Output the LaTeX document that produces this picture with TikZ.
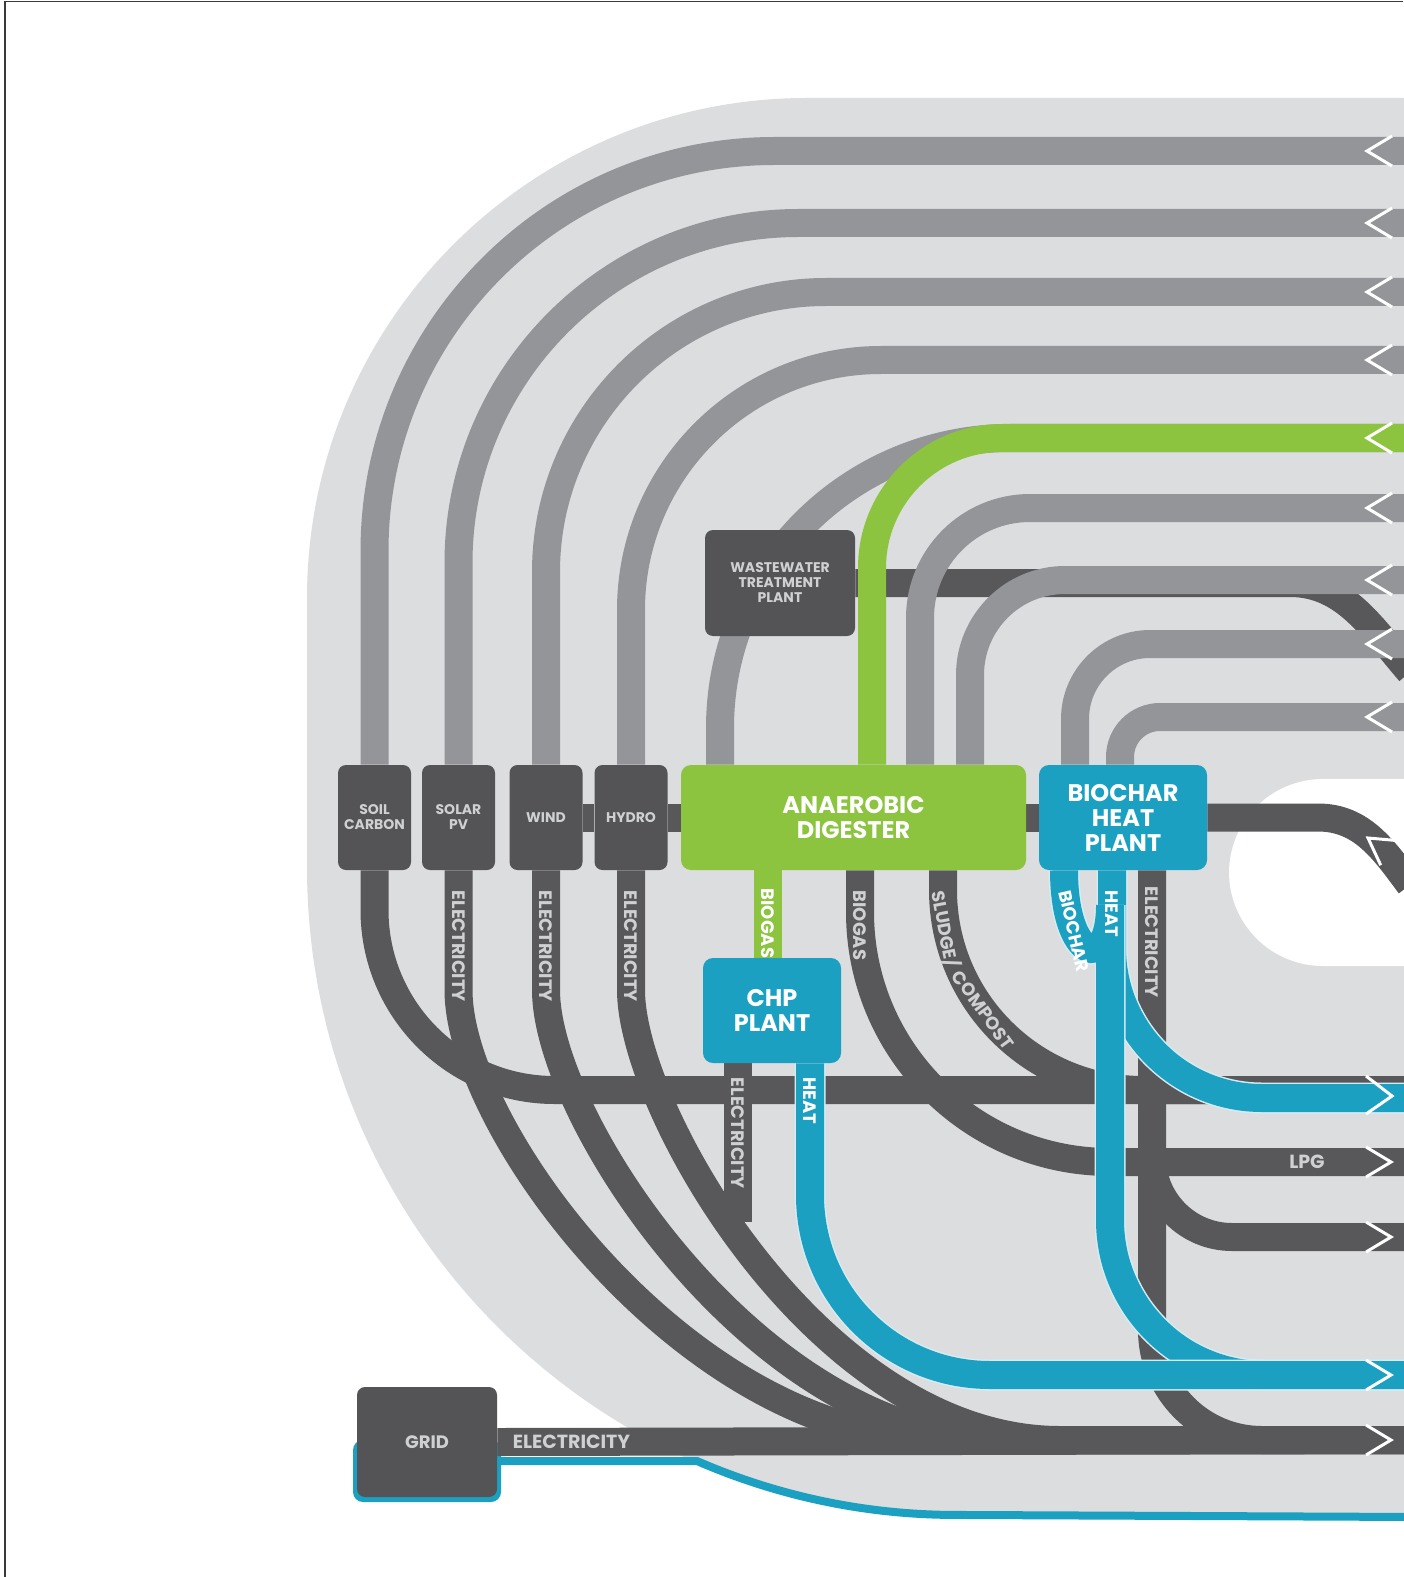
\documentclass[tikz,border=0pt]{standalone}
\usepackage{fontspec}
\setmainfont{Poppins}
\usetikzlibrary{positioning}
\definecolor{shapegray}{HTML}{DCDDDF}
\definecolor{pipegray}{HTML}{939598}
\definecolor{pipedark}{HTML}{58585A}
\definecolor{boxdark}{HTML}{545456}
\definecolor{pipegreen}{HTML}{8CC43F}
\definecolor{pipeblue}{HTML}{1CA0C1}
\definecolor{halo}{HTML}{D5ECF3}
\definecolor{lbl}{HTML}{CFD0D2}
\definecolor{framecol}{HTML}{3A3A3A}
\pgfdeclarelayer{back}
\pgfdeclarelayer{darkpipes}
\pgfdeclarelayer{graypipes}
\pgfdeclarelayer{bluepipes}
\pgfdeclarelayer{labels}
\pgfsetlayers{back,darkpipes,graypipes,bluepipes,labels,main}
\begin{document}
\begin{tikzpicture}[x=0.5pt,y=-0.5pt]
       \tikzstyle{srcbox}=[rectangle, rounded corners=4pt, fill=boxdark, text=lbl, align=center, inner sep=0pt, minimum width=36.5pt, minimum height=52.5pt, font=\bfseries\fontsize{7}{7.5}\selectfont]
       \tikzstyle{plantbox}=[rectangle, rounded corners=5pt, text=white, align=center, inner sep=0pt, minimum height=52.5pt, font=\bfseries\fontsize{12}{12.5}\selectfont]
       \tikzstyle{pipe}=[line width=14pt]
       \tikzstyle{graypipe}=[pipe, draw=pipegray]
       \tikzstyle{darkpipe}=[pipe, draw=pipedark]
       \tikzstyle{greenpipe}=[pipe, draw=pipegreen]
       \tikzstyle{bluepipe}=[pipe, draw=pipeblue, preaction={draw=halo, line width=15.5pt}]
       \tikzstyle{pipelabel}=[inner sep=0pt, text=lbl, text depth=0pt, font=\bfseries\fontsize{9}{9}\selectfont]
       \tikzstyle{downlabel}=[pipelabel, rotate=-90, anchor=west]
       \tikzstyle{chevron}=[draw=white, line width=1.5pt]
       \useasboundingbox (0,0) rectangle (1403,1577);
       \begin{pgfonlayer}{back}
        \fill[white] (0,0) rectangle (1403,1577);
        \draw[framecol, line width=0.75pt] (5,1577) -- (5,1.5) -- (1403,1.5);
        \fill[shapegray] (1420,98) -- (807,98) arc[start angle=90, end angle=180, radius=250pt]
         -- (307,867) arc[start angle=180, end angle=270, radius=325pt] -- (1420,1517) -- cycle;
        \fill[white, rounded corners=47pt] (1229,779) rectangle (1500,966);
        \fill[pipeblue, rounded corners=5pt] (353,1440) rectangle (501,1502);
        \draw[pipeblue, line width=4pt] (497,1461) -- (697,1461)
         arc[start angle=246.5, end angle=270, radius=325pt] -- (1420,1517);
       \end{pgfonlayer}
       \node[srcbox] (soil) at (374.5,817.5) {SOIL\\CARBON};
       \node[srcbox] (solar) at (458.5,817.5) {SOLAR\\PV};
       \node[srcbox] (wind) at (546,817.5) {WIND};
       \node[srcbox] (hydro) at (631,817.5) {HYDRO};
       \node[plantbox, fill=pipegreen, minimum width=172.5pt] (digester) at (853.5,817.5) {ANAEROBIC\\DIGESTER};
       \node[plantbox, fill=pipeblue, minimum width=84pt] (biochar) at (1123,817.5) {BIOCHAR\\HEAT\\PLANT};
       \node[srcbox, minimum width=75pt, minimum height=53pt] (wwtp) at (780,583) {WASTEWATER\\TREATMENT\\PLANT};
       \node[plantbox, fill=pipeblue, minimum width=69pt] (chp) at (772,1010.5) {CHP\\PLANT};
       \node[srcbox, minimum width=70pt, minimum height=55pt, font=\bfseries\fontsize{9}{9}\selectfont] (grid) at (427,1442) {GRID};
       \coordinate (in1) at (1410,151);
       \coordinate (in2) at (1410,223);
       \coordinate (in3) at (1410,292);
       \coordinate (in4) at (1410,360);
       \coordinate (in5) at (1410,438);
       \coordinate (in6) at (1410,508);
       \coordinate (in7) at (1410,580);
       \coordinate (in8) at (1410,644);
       \coordinate (in9) at (1410,717);
       \coordinate (wwout) at (1410,672);
       \coordinate (midout) at (1410,885);
       \coordinate (outsoil) at (1410,1090);
       \coordinate (outheat) at (1410,1098);
       \coordinate (outlpg) at (1410,1162);
       \coordinate (outgas) at (1410,1237);
       \coordinate (outchar) at (1410,1375);
       \coordinate (outgrid) at (1410,1440);
       \coordinate (fork) at (1152,1150);
       \coordinate (chpend) at (738,1222);
       \begin{pgfonlayer}{darkpipes}
        \draw[darkpipe] (wwtp.east) -- (1290,583) .. controls (1345,583) and (1372,628) .. (wwout);
        \draw[darkpipe] (wind) -- (hydro) -- (digester) -- (biochar);
        \draw[darkpipe] (biochar.east) -- (1318,817.5) .. controls (1362,817.5) and (1384,850) .. (midout);
        \draw[darkpipe, rounded corners=90pt] (soil.south) |- (outsoil);
        \draw[darkpipe, rounded corners=100pt] ([xshift=44.75pt]digester.south) |- (outsoil);
        \draw[darkpipe, rounded corners=125pt] ([xshift=3.25pt]digester.south) |- (outlpg);
        \draw[darkpipe, rounded corners=55pt] ([xshift=14.5pt]biochar.south) |- (outgrid);
        \draw[darkpipe, rounded corners=40pt] (fork) |- (outgas);
        \draw[darkpipe] (solar.south) -- (458.5,990) .. controls (458.5,1130) and (690,1440) .. (940,1440) -- (outgrid);
        \draw[darkpipe] (wind.south) -- (546,990) .. controls (546,1120) and (760,1440) .. (1000,1440) -- (outgrid);
        \draw[darkpipe] (hydro.south) -- (631,990) .. controls (631,1110) and (820,1440) .. (1060,1440) -- (outgrid);
        \draw[darkpipe] ([xshift=-17pt]chp.south) -- (chpend);
        \draw[darkpipe] (grid.east) -- (outgrid);
       \end{pgfonlayer}
       \begin{pgfonlayer}{graypipes}
        \draw[graypipe, rounded corners=200pt] (in1) -| (soil.north);
        \draw[graypipe, rounded corners=170pt] (in2) -| (solar.north);
        \draw[graypipe, rounded corners=140pt] (in3) -| (wind.north);
        \draw[graypipe, rounded corners=125pt] (in4) -| (hydro.north);
        \draw[graypipe, rounded corners=145pt] (in5) -| ([xshift=-66.75pt]digester.north);
        \draw[greenpipe, rounded corners=65pt] (in5) -| ([xshift=9.25pt]digester.north);
        \draw[graypipe, rounded corners=55pt] (in6) -| ([xshift=33.25pt]digester.north);
        \draw[graypipe, rounded corners=47.5pt] (in7) -| ([xshift=58.25pt]digester.north);
        \draw[graypipe, rounded corners=37.5pt] (in8) -| ([xshift=-24pt]biochar.north);
        \draw[graypipe, rounded corners=20pt] (in9) -| ([xshift=-1.5pt]biochar.north);
       \end{pgfonlayer}
       \begin{pgfonlayer}{bluepipes}
        \draw[greenpipe] ([xshift=-42.75pt]digester.south) -- ([xshift=-2pt]chp.north);
        \draw[bluepipe, rounded corners=75pt] ([xshift=-5.5pt]biochar.south) |- (outheat);
        \draw[bluepipe, rounded corners=77.5pt] ([xshift=-29.5pt]biochar.south) .. controls (1064,960) and (1110,975) .. (1110,1060) |- (outchar);
        \draw[bluepipe, rounded corners=90pt] ([xshift=19pt]chp.south) |- (outchar);
       \end{pgfonlayer}
       \begin{pgfonlayer}{labels}
        \foreach \y in {151,223,292,360,438,508,580,644,717}
         \draw[chevron] (1392,\y-15) -- (1367,\y) -- (1392,\y+15);
        \foreach \y in {1162,1237,1375,1440}
         \draw[chevron] (1366,\y-15) -- (1391,\y) -- (1366,\y+15);
        \draw[chevron] (1366,1076) -- (1392,1096) -- (1366,1114);
        \begin{scope}[shift={(1368,838)}, rotate=-35]
         \draw[chevron] (26,-15) -- (0,0) -- (26,15);
        \end{scope}
        \node[downlabel] (elsolar) at ([yshift=-10pt]solar.south) {ELECTRICITY};
        \node[downlabel] (elwind) at ([yshift=-10pt]wind.south) {ELECTRICITY};
        \node[downlabel] (elhydro) at ([yshift=-10pt]hydro.south) {ELECTRICITY};
        \node[downlabel, text=white] (gasgreen) at ([xshift=-42.75pt,yshift=-9pt]digester.south) {BIOGAS};
        \node[downlabel] (gasdark) at ([xshift=3.25pt,yshift=-10pt]digester.south) {BIOGAS};
        \node[pipelabel, rotate=-79] (sludge) at (947,929) {SLUDGE/};
        \node[pipelabel, rotate=-54] (compost) at (983,1010) {COMPOST};
        \node[pipelabel, text=white, rotate=-77, anchor=west] (lblchar) at ([xshift=-29pt,yshift=-10pt]biochar.south) {BIOCHAR};
        \node[downlabel, text=white] (heatbc) at ([xshift=-5.5pt,yshift=-10pt]biochar.south) {HEAT};
        \node[downlabel] (elbc) at ([xshift=14.5pt,yshift=-8pt]biochar.south) {ELECTRICITY};
        \node[downlabel] (elchp) at ([xshift=-17pt,yshift=-7pt]chp.south) {ELECTRICITY};
        \node[downlabel, text=white] (heatchp) at ([xshift=19pt,yshift=-7pt]chp.south) {HEAT};
        \node[pipelabel, font=\bfseries\fontsize{9.5}{9.5}\selectfont] (lpg) at (1307,1162) {LPG};
        \node[pipelabel, font=\bfseries\fontsize{9.5}{9.5}\selectfont, anchor=west] (gridel) [right=7.5pt of grid] {ELECTRICITY};
       \end{pgfonlayer}
      \end{tikzpicture}
\end{document}
